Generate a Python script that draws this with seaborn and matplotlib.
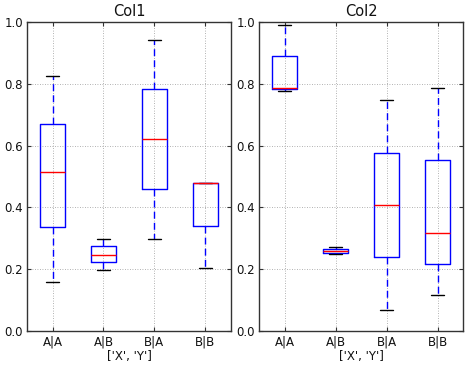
import numpy as np
import pandas as pd
import matplotlib
matplotlib.use("Agg")
import matplotlib.pyplot as plt
import seaborn as sns

groups = ["A|A", "A|B", "B|A", "B|B"]
# five values per group: min, q1, median, q3, max
col1_values = {
    "A|A": [0.158, 0.336, 0.516, 0.669, 0.825],
    "A|B": [0.197, 0.223, 0.247, 0.274, 0.298],
    "B|A": [0.298, 0.460, 0.621, 0.782, 0.943],
    "B|B": [0.203, 0.341, 0.478, 0.479, 0.480],
}
col2_values = {
    "A|A": [0.777, 0.782, 0.786, 0.889, 0.990],
    "A|B": [0.249, 0.254, 0.259, 0.266, 0.273],
    "B|A": [0.068, 0.239, 0.407, 0.575, 0.748],
    "B|B": [0.116, 0.217, 0.317, 0.553, 0.788],
}
titles = ["Col1", "Col2"]
xlabel = "['X', 'Y']"
yticks = [0.0, 0.2, 0.4, 0.6, 0.8, 1.0]

def to_long(d):
    rows = []
    for g in groups:
        for v in d[g]:
            rows.append({"group": g, "value": v})
    return pd.DataFrame(rows)

sns.set_style("white")
plt.rcParams["font.family"] = ["DejaVu Sans"]
plt.rcParams["font.size"] = 8.5
plt.rcParams["text.color"] = "#111111"

fig, axes = plt.subplots(1, 2, figsize=(4.74, 3.67), dpi=100)
fig.subplots_adjust(left=0.057, right=0.977, top=0.940, bottom=0.098, wspace=0.139)

for ax, data, title in zip(axes, [col1_values, col2_values], titles):
    df = to_long(data)
    sns.boxplot(
        data=df, x="group", y="value", order=groups, ax=ax,
        width=0.5, whis=(0, 100), fill=False, linewidth=1.0,
        boxprops=dict(color="blue"),
        whiskerprops=dict(color="blue", linestyle=(0, (5, 3))),
        capprops=dict(color="black"),
        medianprops=dict(color="red"),
        flierprops=dict(marker="+", markeredgecolor="blue"),
    )
    ax.set_ylim(0, 1.0)
    ax.set_xlim(-0.5, 3.5)
    ax.set_yticks(yticks)
    ax.set_yticklabels([f"{t:.1f}" for t in yticks], fontsize=8.5, color="#111111")
    ax.set_xticks(range(len(groups)))
    ax.set_xticklabels(groups, fontsize=8.5, color="#111111")
    ax.set_title(title, fontsize=10.5, pad=4)
    ax.set_xlabel(xlabel, fontsize=8.5, labelpad=1, color="#111111")
    ax.set_ylabel("")
    ax.grid(True, color="#999999", linestyle=(0, (1, 2)), linewidth=0.6)
    ax.set_axisbelow(True)
    for s in ax.spines.values():
        s.set_color("#333333")
        s.set_linewidth(1.0)
    ax.tick_params(direction="in", length=3, top=True, right=True, bottom=True, left=True,
                   color="#333333", pad=3)

fig.savefig("out.png", dpi=100)
